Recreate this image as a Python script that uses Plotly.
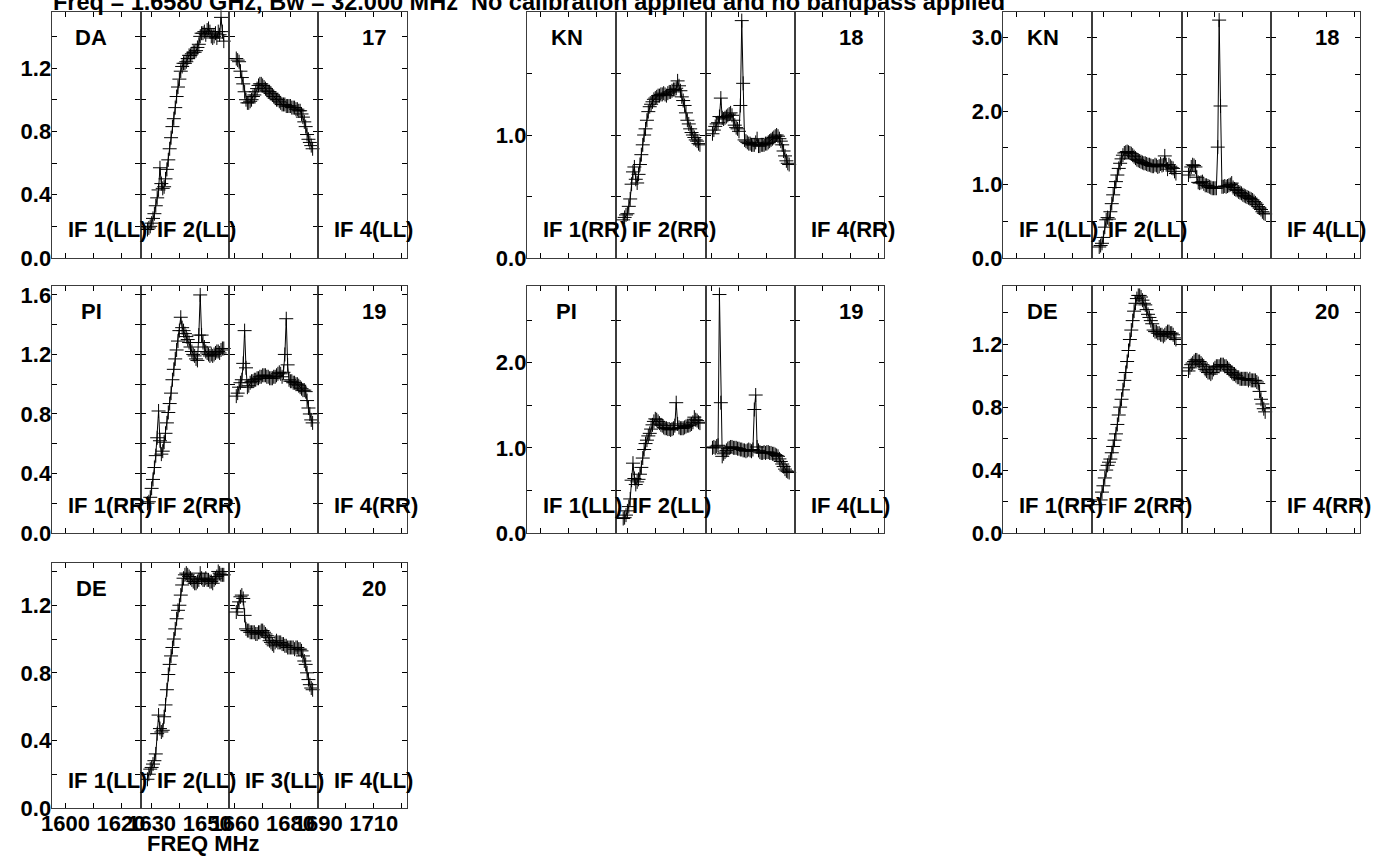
import plotly.graph_objects as go

W, H = 1394, 862

# ---------------- data ----------------
if_ranges = [[1595, 1627], [1626, 1658], [1658, 1690], [1690, 1722]]
if_starts = [1594, 1626, 1658, 1690]
x_tickvals = [[1600, 1610, 1620], [1630, 1640, 1650], [1660, 1670, 1680, 1690], [1690, 1700, 1710, 1720]]
x_ticktext = [["1600", "", "1620"], ["1630", "", "1650"], ["1660", "", "1680", ""], ["1690", "", "1710", ""]]
chan_offset_mhz = [2.5 + 0.5 * k for k in range(56)]  # channel centres inside each IF

da_ll_if2 = [0.18,0.19,0.20,0.22,0.25,0.28,0.33,0.38,0.43,0.57, 0.47,0.44,0.45,0.50,0.56,0.62,0.69,0.76,0.83,0.88,
             0.95,1.02,1.08,1.13,1.18,1.21,1.23,1.23,1.24,1.26, 1.28,1.28,1.29,1.30,1.30,1.31,1.33,1.35,1.40,1.42,
             1.42,1.43,1.41,1.44,1.45,1.43,1.40,1.39,1.40,1.42, 1.39,1.43,1.41,1.52,1.43,1.37]
da_ll_if3 = [1.26,1.25,1.24,1.18,1.14,1.10,1.05,1.00,0.98,0.98, 0.99,1.00,1.02,1.03,1.05,1.07,1.09,1.10,1.10,1.09,
             1.08,1.07,1.06,1.05,1.05,1.04,1.03,1.02,1.01,1.00, 1.00,0.99,0.98,0.97,0.97,0.97,0.96,0.96,0.96,0.96,
             0.95,0.95,0.95,0.94,0.94,0.93,0.93,0.91,0.89,0.86, 0.83,0.78,0.75,0.73,0.71,0.69]
kn_rr_if2 = [0.31,0.33,0.35,0.36,0.42,0.48,0.60,0.70,0.74,0.64, 0.61,0.68,0.76,0.84,0.92,1.00,1.05,1.12,1.19,1.23,
             1.25,1.27,1.29,1.30,1.31,1.32,1.32,1.33,1.33,1.34, 1.33,1.32,1.34,1.35,1.35,1.36,1.37,1.37,1.38,1.44,
             1.40,1.36,1.31,1.28,1.24,1.18,1.12,1.09,1.05,1.02, 1.00,0.98,0.96,0.95,0.93,0.92]
kn_rr_if3 = [1.01,1.04,1.07,1.09,1.10,1.15,1.30,1.14,1.13,1.14, 1.15,1.16,1.17,1.18,1.16,1.12,1.08,1.06,1.05,1.03,
             1.24,1.93,1.42,0.96,0.95,0.94,0.93,0.93,0.92,0.92, 0.92,0.94,0.97,0.91,0.91,0.92,0.92,0.92,0.93,0.93,
             0.94,0.95,0.96,0.97,0.98,0.99,1.00,0.99,0.97,0.95, 0.92,0.87,0.83,0.79,0.77,0.76]
kn_ll_if2 = [0.15,0.17,0.20,0.28,0.42,0.52,0.55,0.53,0.63,0.74, 0.86,0.96,1.04,1.13,1.22,1.29,1.35,1.40,1.43,1.44,
             1.45,1.44,1.43,1.42,1.40,1.38,1.36,1.34,1.33,1.32, 1.31,1.30,1.29,1.29,1.28,1.27,1.27,1.26,1.25,1.25,
             1.27,1.26,1.24,1.25,1.28,1.26,1.27,1.39,1.27,1.21, 1.27,1.25,1.23,1.22,1.18,1.15]
kn_ll_if3 = [1.13,1.18,1.24,1.27,1.26,1.24,1.10,1.03,1.02,1.03, 1.04,1.01,0.99,0.99,0.98,0.97,0.96,0.95,0.95,0.95,
             0.95,1.51,3.24,2.07,0.97,0.97,0.98,0.97,0.98,0.99, 1.00,1.02,0.96,0.94,0.93,0.92,0.90,0.89,0.88,0.86,
             0.85,0.84,0.83,0.82,0.81,0.80,0.79,0.77,0.75,0.73, 0.70,0.68,0.66,0.63,0.61,0.60]
pi_rr_if2 = [0.20,0.21,0.24,0.30,0.36,0.44,0.52,0.64,0.82,0.62, 0.53,0.55,0.61,0.67,0.74,0.81,0.87,0.94,1.03,1.10,
             1.17,1.23,1.29,1.36,1.45,1.38,1.36,1.34,1.32,1.30, 1.28,1.25,1.22,1.20,1.19,1.17,1.16,1.33,1.60,1.33,
             1.28,1.25,1.22,1.21,1.20,1.19,1.20,1.19,1.20,1.21, 1.22,1.22,1.21,1.23,1.24,1.24]
pi_rr_if3 = [0.92,0.94,0.98,1.01,1.03,1.14,1.36,1.11,0.98,0.99, 1.01,1.02,1.02,1.03,1.03,1.04,1.04,1.05,1.05,1.06,
             1.06,1.06,1.05,1.05,1.04,1.04,1.04,1.05,1.05,1.06, 1.07,1.08,1.07,1.05,1.08,1.20,1.44,1.13,1.03,1.02,
             1.02,1.01,1.01,1.00,1.00,0.99,0.98,0.97,0.96,0.96, 0.95,0.89,0.84,0.80,0.76,0.74]
pi_ll_if2 = [0.17,0.18,0.21,0.26,0.31,0.40,0.62,0.82,0.64,0.57, 0.60,0.63,0.69,0.77,0.88,0.98,1.05,1.09,1.14,1.17,
             1.22,1.27,1.31,1.34,1.33,1.31,1.29,1.27,1.26,1.24, 1.23,1.23,1.22,1.22,1.21,1.22,1.23,1.26,1.53,1.28,
             1.24,1.23,1.23,1.23,1.24,1.25,1.26,1.26,1.27,1.28, 1.30,1.36,1.33,1.32,1.30,1.29]
pi_ll_if3 = [1.00,1.01,1.00,1.02,1.03,2.80,1.53,0.90,0.93,0.95, 0.97,0.99,1.00,1.01,1.01,1.00,1.00,1.00,0.99,0.99,
             0.98,0.98,0.97,0.97,0.96,0.97,0.98,0.97,0.96,0.98, 1.45,1.62,1.01,0.97,0.95,0.94,0.94,0.95,0.94,0.95,
             0.95,0.94,0.94,0.93,0.93,0.92,0.91,0.90,0.87,0.84, 0.81,0.78,0.75,0.73,0.72,0.71]
de_rr_if2 = [0.18,0.21,0.26,0.30,0.35,0.40,0.43,0.45,0.47,0.51, 0.55,0.59,0.63,0.69,0.75,0.80,0.85,0.91,0.97,1.02,
             1.09,1.16,1.23,1.29,1.35,1.41,1.46,1.49,1.51,1.51, 1.50,1.48,1.46,1.45,1.42,1.39,1.37,1.35,1.33,1.29,
             1.28,1.28,1.27,1.27,1.26,1.26,1.25,1.26,1.27,1.28, 1.28,1.27,1.27,1.26,1.24,1.23]
de_rr_if3 = [1.03,1.05,1.07,1.08,1.09,1.10,1.10,1.09,1.09,1.08, 1.07,1.06,1.04,1.03,1.02,1.02,1.01,1.02,1.04,1.05,
             1.06,1.06,1.06,1.07,1.07,1.07,1.06,1.06,1.05,1.04, 1.03,1.02,1.01,1.01,1.00,0.99,0.99,0.98,0.98,0.98,
             0.98,0.98,0.98,0.97,0.98,0.97,0.97,0.97,0.97,0.96, 0.95,0.90,0.85,0.82,0.79,0.77]
de_ll_if2 = [0.17,0.20,0.23,0.24,0.26,0.28,0.32,0.44,0.55,0.47, 0.45,0.46,0.54,0.61,0.70,0.79,0.85,0.90,0.95,1.00,
             1.06,1.12,1.17,1.20,1.26,1.32,1.36,1.38,1.39,1.38, 1.37,1.36,1.35,1.34,1.33,1.33,1.34,1.35,1.39,1.36,
             1.35,1.35,1.36,1.35,1.35,1.34,1.34,1.33,1.35,1.36, 1.37,1.40,1.39,1.38,1.38,1.38]
de_ll_if3 = [1.16,1.18,1.22,1.25,1.26,1.24,1.14,1.06,1.05,1.05, 1.04,1.04,1.04,1.04,1.03,1.03,1.04,1.04,1.05,1.05,
             1.04,1.03,1.02,1.01,0.99,0.98,0.97,0.96,0.98,0.99, 0.98,0.98,0.98,0.97,0.97,0.96,0.96,0.95,0.95,0.95,
             0.95,0.95,0.94,0.95,0.95,0.94,0.94,0.93,0.90,0.87, 0.85,0.80,0.76,0.73,0.71,0.70]

antennas = ["DA", "KN", "KN", "PI", "PI", "DE", "DE"]
ant_numbers = ["17", "18", "18", "19", "19", "20", "20"]
stokes = ["LL", "RR", "LL", "RR", "LL", "RR", "LL"]
if2_series = [da_ll_if2, kn_rr_if2, kn_ll_if2, pi_rr_if2, pi_ll_if2, de_rr_if2, de_ll_if2]
if3_series = [da_ll_if3, kn_rr_if3, kn_ll_if3, pi_rr_if3, pi_ll_if3, de_rr_if3, de_ll_if3]
y_max = [1.554, 2.0, 3.35, 1.66, 2.9, 1.57, 1.45]
y_tickvals = [
    [0, 0.2, 0.4, 0.6, 0.8, 1.0, 1.2, 1.4],
    [0, 0.5, 1.0, 1.5, 2.0],
    [0, 0.5, 1.0, 1.5, 2.0, 2.5, 3.0],
    [0, 0.2, 0.4, 0.6, 0.8, 1.0, 1.2, 1.4, 1.6],
    [0, 0.5, 1.0, 1.5, 2.0, 2.5],
    [0, 0.2, 0.4, 0.6, 0.8, 1.0, 1.2, 1.4],
    [0, 0.2, 0.4, 0.6, 0.8, 1.0, 1.2, 1.4],
]
y_ticktext = [
    ["0.0", "", "0.4", "", "0.8", "", "1.2", ""],
    ["0.0", "", "1.0", "", "2.0"],
    ["0.0", "", "1.0", "", "2.0", "", "3.0"],
    ["0.0", "", "0.4", "", "0.8", "", "1.2", "", "1.6"],
    ["0.0", "", "1.0", "", "2.0", ""],
    ["0.0", "", "0.4", "", "0.8", "", "1.2", ""],
    ["0.0", "", "0.4", "", "0.8", "", "1.2", ""],
]
show_if3_label = [False, False, False, False, False, False, True]
title_text = "Freq = 1.6580 GHz, Bw = 32.000 MHz\u00a0\u00a0No calibration applied and no bandpass applied"

# ---------------- layout geometry (pixels) ----------------
panel_cells = [(0, 0), (0, 1), (0, 2), (1, 0), (1, 1), (1, 2), (2, 0)]
col_left = [51.7, 527.0, 1003.0]
col_right = [407.0, 884.0, 1360.0]
row_top = [12.0, 286.0, 563.0]
row_bot = [258.0, 533.0, 808.0]

FONT_FAM = "Liberation Sans, Arial, Helvetica, sans-serif"
LINE_COL = "#3c3c3c"
FS = 22


def fx(px):
    return px / W


def fy(py):
    return 1 - py / H


fig = go.Figure()
layout = dict(
    template="none",
    width=W, height=H, margin=dict(l=0, r=0, t=0, b=0, pad=0, autoexpand=False),
    paper_bgcolor="white", plot_bgcolor="white", showlegend=False,
)
annotations = []

for p, (r, c) in enumerate(panel_cells):
    sub_w = (col_right[c] - col_left[c]) / 4.0
    bottom_panel = (p == len(panel_cells) - 1)
    for j in range(4):
        n = p * 4 + j + 1
        xa = "xaxis" if n == 1 else f"xaxis{n}"
        ya = "yaxis" if n == 1 else f"yaxis{n}"
        xid = "x" if n == 1 else f"x{n}"
        yid = "y" if n == 1 else f"y{n}"
        x0 = col_left[c] + j * sub_w
        x1 = x0 + sub_w
        layout[xa] = dict(
            domain=[fx(x0), fx(x1)], range=if_ranges[j], anchor=yid, automargin=False,
            tickmode="array", tickvals=x_tickvals[j], ticktext=x_ticktext[j],
            showticklabels=bottom_panel, ticks="inside", ticklen=5, tickwidth=1,
            tickcolor="black", showline=True, linecolor=LINE_COL, linewidth=1.3,
            mirror="ticks", showgrid=False, zeroline=False, tickangle=0,
            ticklabeloverflow="allow", ticklabelstandoff=-5,
            tickfont=dict(family=FONT_FAM, size=FS, color="black", weight="bold"),
        )
        layout[ya] = dict(
            domain=[fy(row_bot[r]), fy(row_top[r])], range=[0, y_max[p]], anchor=xid,
            automargin=False, ticklabelstandoff=-5,
            tickmode="array", tickvals=y_tickvals[p], ticktext=y_ticktext[p],
            showticklabels=(j == 0), ticks="inside", ticklen=5, tickwidth=1,
            tickcolor="black", showline=True, linecolor=LINE_COL, linewidth=1.3,
            mirror="ticks", showgrid=False, zeroline=False,
            tickfont=dict(family=FONT_FAM, size=FS, color="black", weight="bold"),
        )
        if j in (1, 2):
            vals = if2_series[p] if j == 1 else if3_series[p]
            xs = [if_starts[j] + off for off in chan_offset_mhz[:len(vals)]]
            fig.add_trace(go.Scatter(
                x=xs, y=vals, xaxis=xid, yaxis=yid, mode="lines+markers",
                line=dict(color="black", width=1),
                marker=dict(symbol="cross-thin", size=10, color="black",
                            line=dict(color="black", width=1)),
                cliponaxis=False, hoverinfo="skip",
            ))
        else:
            # empty sub-panel: no channels plotted, but the frame must still be drawn
            fig.add_trace(go.Scatter(
                x=[None], y=[None], xaxis=xid, yaxis=yid, mode="markers",
                hoverinfo="skip",
            ))
        # IF labels
        if j != 2 or show_if3_label[p]:
            annotations.append(dict(
                text=f"<b>IF {j + 1}({stokes[p]})</b>", xref="paper", yref="paper",
                x=fx(x0 + 14), y=fy(row_bot[r] - 28), xanchor="left", yanchor="middle",
                showarrow=False, font=dict(family=FONT_FAM, size=FS, color="black"),
            ))
    # antenna name and number
    annotations.append(dict(
        text=f"<b>{antennas[p]}</b>", xref="paper", yref="paper",
        x=fx(col_left[c] + 39.5), y=fy(row_top[r] + 25), xanchor="center", yanchor="middle",
        showarrow=False, font=dict(family=FONT_FAM, size=FS, color="black"),
    ))
    annotations.append(dict(
        text=f"<b>{ant_numbers[p]}</b>", xref="paper", yref="paper",
        x=fx(col_right[c] - 33), y=fy(row_top[r] + 25), xanchor="center", yanchor="middle",
        showarrow=False, font=dict(family=FONT_FAM, size=FS, color="black"),
    ))

# x axis title and page title
annotations.append(dict(
    text="<b>FREQ MHz</b>", xref="paper", yref="paper", x=fx(203), y=fy(843),
    xanchor="center", yanchor="middle", showarrow=False,
    font=dict(family=FONT_FAM, size=FS, color="black"),
))
annotations.append(dict(
    text=f"<b>{title_text}</b>", xref="paper", yref="paper", x=fx(51), y=fy(17),
    xanchor="left", yanchor="bottom", showarrow=False,
    font=dict(family=FONT_FAM, size=23.5, color="black"),
))

layout["annotations"] = annotations
fig.update_layout(**layout)
# the page itself gets no body margin so that the figure fills the window from its corner
fig.write_html("out.html", config={"displayModeBar": False},
               post_script="document.body.style.margin='0px';")
